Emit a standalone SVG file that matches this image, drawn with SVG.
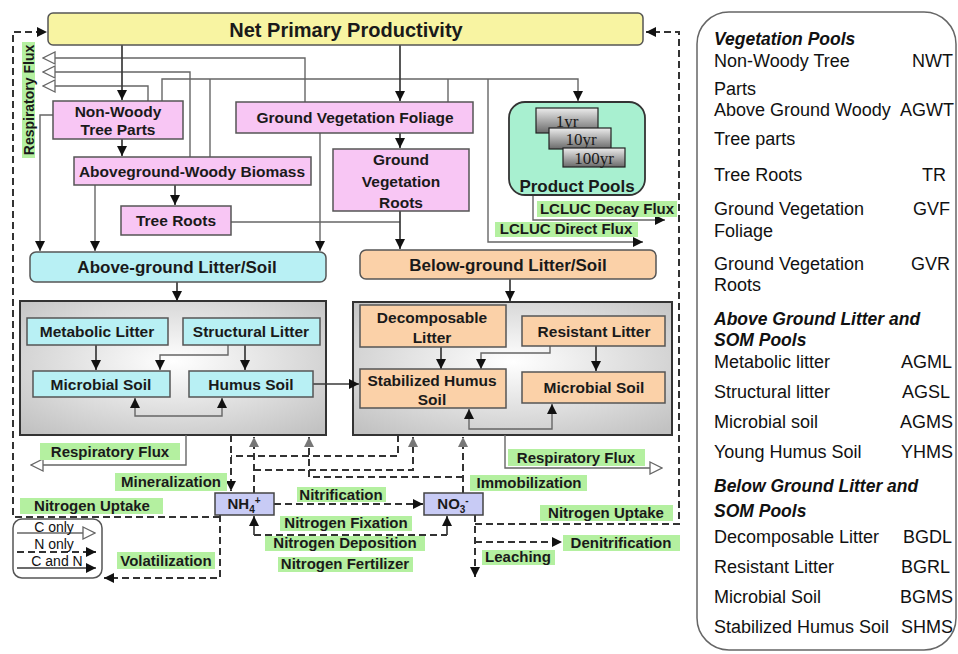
<svg xmlns="http://www.w3.org/2000/svg" width="958" height="654" viewBox="0 0 958 654">
<defs>
<style>
.t{font-family:"Liberation Sans",Arial,sans-serif;font-weight:bold;fill:#1a1a1a;text-anchor:middle}
.n{font-size:15.5px}
.h{font-size:17px}
.g{font-size:15px}
.lg{font-family:"Liberation Sans",Arial,sans-serif;font-size:14px;fill:#111;text-anchor:middle}
.gl{fill:#b4f0a0}
.pink{fill:#f8c6f4;stroke:#555;stroke-width:1.5}
.cyan{fill:#b8f0f4;stroke:#555;stroke-width:1.5}
.peach{fill:#fbd1a8;stroke:#555;stroke-width:1.5}
.nbox{fill:#c8cbf5;stroke:#444;stroke-width:1.5}
.cont{fill:url(#cg);stroke:#333;stroke-width:2}
.yr{fill:url(#yg);stroke:#222;stroke-width:1.2}
.yt{font-family:"Liberation Serif","Times New Roman",serif;font-size:17px;fill:#1a1a1a;text-anchor:middle}
.s{fill:none;stroke:#3a3a3a;stroke-width:1.7}
.sg{fill:none;stroke:#666;stroke-width:1.4}
.d{fill:none;stroke:#333;stroke-width:2;stroke-dasharray:7 4}
.p{font-family:"Comic Sans MS","Liberation Sans",Arial,sans-serif;font-size:18px;fill:#111}
.a{text-anchor:end}
.pb{font-family:"Comic Sans MS","Liberation Sans",Arial,sans-serif;font-size:17.5px;font-weight:bold;font-style:italic;fill:#111}
</style>
<radialGradient id="cg" cx="50%" cy="45%" r="70%">
<stop offset="0" stop-color="#ffffff"/>
<stop offset="1" stop-color="#c2c2c2"/>
</radialGradient>
<linearGradient id="yg" x1="0" y1="0" x2="0" y2="1">
<stop offset="0" stop-color="#ececec"/>
<stop offset="1" stop-color="#6a6a6a"/>
</linearGradient>
<marker id="ab" viewBox="0 0 10 10" refX="10" refY="5" markerWidth="10" markerHeight="10" markerUnits="userSpaceOnUse" orient="auto-start-reverse"><path d="M0,0L10,5L0,10z" fill="#111"/></marker>
<marker id="ag" viewBox="0 0 10 10" refX="10" refY="5" markerWidth="10" markerHeight="10" markerUnits="userSpaceOnUse" orient="auto-start-reverse"><path d="M0,0L10,5L0,10z" fill="#777"/></marker>
<marker id="ao" viewBox="0 0 14 14" refX="13" refY="7" markerWidth="14" markerHeight="14" markerUnits="userSpaceOnUse" orient="auto"><path d="M1,1L13,7L1,13z" fill="#fff" stroke="#666" stroke-width="1.3"/></marker>
</defs>
<rect width="958" height="654" fill="#fff"/>

<!-- right legend panel -->
<g id="abbrev-panel">
<rect x="697" y="12" width="259" height="638" rx="32" fill="#fff" stroke="#666" stroke-width="1.5"/>
<text class="pb" x="714" y="45">Vegetation Pools</text>
<text class="p" x="714" y="67">Non-Woody Tree</text><text class="p a" x="953" y="67">NWT</text>
<text class="p" x="714" y="95">Parts</text>
<text class="p" x="714" y="116">Above Ground Woody</text><text class="p a" x="954" y="116">AGWT</text>
<text class="p" x="714" y="145">Tree parts</text>
<text class="p" x="714" y="181">Tree Roots</text><text class="p a" x="946" y="181">TR</text>
<text class="p" x="714" y="215">Ground Vegetation</text><text class="p a" x="950" y="215">GVF</text>
<text class="p" x="714" y="237">Foliage</text>
<text class="p" x="714" y="270">Ground Vegetation</text><text class="p a" x="950" y="270">GVR</text>
<text class="p" x="714" y="291">Roots</text>
<text class="pb" x="714" y="325">Above Ground Litter and</text>
<text class="pb" x="714" y="346">SOM Pools</text>
<text class="p" x="714" y="368">Metabolic litter</text><text class="p a" x="952" y="368">AGML</text>
<text class="p" x="714" y="398">Structural litter</text><text class="p a" x="950" y="398">AGSL</text>
<text class="p" x="714" y="428">Microbial soil</text><text class="p a" x="953" y="428">AGMS</text>
<text class="p" x="714" y="458">Young Humus Soil</text><text class="p a" x="953" y="458">YHMS</text>
<text class="pb" x="714" y="492">Below Ground Litter and</text>
<text class="pb" x="714" y="517">SOM Pools</text>
<text class="p" x="714" y="543">Decomposable Litter</text><text class="p a" x="952" y="543">BGDL</text>
<text class="p" x="714" y="573">Resistant Litter</text><text class="p a" x="950" y="573">BGRL</text>
<text class="p" x="714" y="603">Microbial Soil</text><text class="p a" x="953" y="603">BGMS</text>
<text class="p" x="714" y="633">Stabilized Humus Soil</text><text class="p a" x="953" y="633">SHMS</text>
</g>

<!-- containers -->
<g id="above-container"><rect class="cont" x="20" y="301" width="306" height="134"/></g>
<g id="below-container"><rect class="cont" x="353" y="302" width="319" height="133"/></g>

<!-- connectors -->
<g id="connectors">
<path class="sg" d="M305,102V58H43" marker-end="url(#ao)"/>
<path class="sg" d="M190,157V72H43" marker-end="url(#ao)"/>
<path class="sg" d="M148,101V86H43" marker-end="url(#ao)"/>
<path class="sg" d="M162,101V79H578V101" marker-end="url(#ab)"/>
<path class="sg" d="M210,157V79"/>
<path class="sg" d="M448,102V79"/>
<path class="sg" d="M488,79V242H643" marker-end="url(#ab)"/>
<path class="sg" d="M533,195V220H665" marker-end="url(#ab)"/>
<path class="s" d="M122,45V100" marker-end="url(#ab)"/>
<path class="s" d="M400,45V101" marker-end="url(#ab)"/>
<path class="s" d="M122,139V156" marker-end="url(#ab)"/>
<path class="s" d="M175,185V205" marker-end="url(#ab)"/>
<path class="s" d="M400,133V148" marker-end="url(#ab)"/>
<path class="sg" d="M231,222H400"/>
<path class="s" d="M400,211V249" marker-end="url(#ab)"/>
<path class="sg" d="M53,115H40V251" marker-end="url(#ab)"/>
<path class="sg" d="M95,185V251" marker-end="url(#ab)"/>
<path class="sg" d="M320,133V251" marker-end="url(#ab)"/>
<path class="s" d="M177,282V301" marker-end="url(#ab)"/>
<path class="s" d="M510,279V301" marker-end="url(#ab)"/>
<path class="s" d="M96,345V370" marker-end="url(#ab)"/>
<path class="s" d="M245,345V370" marker-end="url(#ab)"/>
<path class="sg" d="M228,345V355H160V370" marker-end="url(#ab)"/>
<path class="sg" d="M135,398V416H222V398" marker-start="url(#ab)" marker-end="url(#ab)"/>
<path class="s" d="M313,384H359" marker-end="url(#ab)" stroke-width="2.2"/>
<path class="s" d="M441,347V369" marker-end="url(#ab)"/>
<path class="sg" d="M550,346V353H481V369" marker-end="url(#ab)"/>
<path class="s" d="M596,346V371" marker-end="url(#ab)"/>
<path class="sg" d="M469,409V429H552V404" marker-start="url(#ab)" marker-end="url(#ab)"/>
<path class="sg" d="M186,435V465H31" marker-end="url(#ao)"/>
<path class="sg" d="M505,435V468H662" marker-end="url(#ao)"/>
<path class="d" d="M220,517H13V32H47" marker-end="url(#ab)"/>
<path class="d" d="M220,515V578H104" marker-end="url(#ab)"/>
<path class="d" d="M475,515V577" marker-end="url(#ab)"/>
<path class="d" d="M475,524H679V32H646" marker-end="url(#ab)"/>
<path class="d" d="M475,542H562" marker-end="url(#ab)"/>
<path class="d" d="M231,435V491" marker-end="url(#ab)"/>
<path class="d" d="M398,435V456H231"/>
<path class="d" d="M254,493V437" marker-end="url(#ag)"/>
<path class="d" d="M254,470H413V437" marker-end="url(#ag)"/>
<path class="d" d="M463,493V437" marker-end="url(#ag)"/>
<path class="d" d="M463,477H309V437" marker-end="url(#ag)"/>
<path class="d" d="M274,504H423" marker-end="url(#ab)"/>
<path class="d" d="M254,535H447"/>
<path class="s" d="M254,535V516" marker-end="url(#ab)" stroke-width="2"/>
<path class="s" d="M447,535V516" marker-end="url(#ab)" stroke-width="2"/>
</g>

<!-- nodes -->
<g id="npp"><rect x="48" y="13" width="595" height="32" rx="5" fill="#f8f4a2" stroke="#555" stroke-width="1.5"/><text class="t" x="346" y="37" font-size="20">Net Primary Productivity</text></g>
<g id="nwt"><rect class="pink" x="53" y="101" width="130" height="38"/><text class="t n" x="118" y="117">Non-Woody</text><text class="t n" x="118" y="135">Tree Parts</text></g>
<g id="gvf"><rect class="pink" x="236" y="102" width="237" height="31"/><text class="t n" x="355" y="123">Ground Vegetation Foliage</text></g>
<g id="agwb"><rect class="pink" x="74" y="157" width="237" height="28"/><text class="t n" x="192" y="177">Aboveground-Woody Biomass</text></g>
<g id="tree-roots"><rect class="pink" x="121" y="206" width="110" height="29"/><text class="t n" x="176" y="226">Tree Roots</text></g>
<g id="gvr"><rect class="pink" x="333" y="149" width="136" height="62"/><text class="t n" x="401" y="165">Ground</text><text class="t n" x="401" y="187">Vegetation</text><text class="t n" x="401" y="208">Roots</text></g>
<g id="product-pools">
<rect x="509" y="102" width="136" height="93" rx="16" fill="#a8f0d0" stroke="#333" stroke-width="1.8"/>
<rect class="yr" x="536" y="108" width="62" height="25"/><text class="yt" x="567" y="127">1yr</text>
<rect class="yr" x="549" y="128" width="62" height="21"/><text class="yt" x="581" y="145">10yr</text>
<rect class="yr" x="563" y="148" width="62" height="19"/><text class="yt" x="594" y="164">100yr</text>
<text class="t" x="577" y="192" font-size="17">Product Pools</text>
</g>
<g id="above-litter"><rect class="cyan" x="30" y="252" width="296" height="30" rx="6"/><text class="t h" x="177" y="273">Above-ground Litter/Soil</text></g>
<g id="below-litter"><rect class="peach" x="360" y="250" width="296" height="29" rx="6"/><text class="t h" x="508" y="271">Below-ground Litter/Soil</text></g>
<g id="metabolic"><rect class="cyan" x="27" y="318" width="141" height="27"/><text class="t n" x="97" y="337">Metabolic Litter</text></g>
<g id="structural"><rect class="cyan" x="183" y="318" width="137" height="27"/><text class="t n" x="251" y="337">Structural Litter</text></g>
<g id="microbial-above"><rect class="cyan" x="33" y="371" width="137" height="26"/><text class="t n" x="101" y="390">Microbial Soil</text></g>
<g id="humus"><rect class="cyan" x="189" y="371" width="124" height="26"/><text class="t n" x="251" y="390">Humus Soil</text></g>
<g id="decomposable"><rect class="peach" x="360" y="305" width="146" height="42"/><text class="t n" x="432" y="323">Decomposable</text><text class="t n" x="432" y="343">Litter</text></g>
<g id="resistant"><rect class="peach" x="522" y="316" width="143" height="30"/><text class="t n" x="594" y="337">Resistant Litter</text></g>
<g id="stabilized"><rect class="peach" x="360" y="369" width="146" height="39"/><text class="t n" x="432" y="386">Stabilized Humus</text><text class="t n" x="432" y="405">Soil</text></g>
<g id="microbial-below"><rect class="peach" x="522" y="372" width="143" height="31"/><text class="t n" x="594" y="393">Microbial Soil</text></g>
<g id="nh4"><rect class="nbox" x="215" y="493" width="59" height="22"/><text class="t" x="244" y="509" font-size="15">NH<tspan font-size="10" dy="4">4</tspan><tspan font-size="10" dy="-9">+</tspan></text></g>
<g id="no3"><rect class="nbox" x="424" y="493" width="59" height="22"/><text class="t" x="453" y="509" font-size="15">NO<tspan font-size="10" dy="4">3</tspan><tspan font-size="10" dy="-9">-</tspan></text></g>

<!-- flux labels -->
<g id="labels">
<rect class="gl" x="22" y="42" width="13" height="116"/><text class="t" x="34" y="100" font-size="14" transform="rotate(-90 34 100)">Respiratory Flux</text>
<rect class="gl" x="537" y="201" width="140" height="16"/><text class="t g" x="607" y="214">LCLUC Decay Flux</text>
<rect class="gl" x="495" y="222" width="143" height="15"/><text class="t g" x="566" y="234">LCLUC Direct Flux</text>
<rect class="gl" x="40" y="443" width="140" height="17"/><text class="t g" x="110" y="457">Respiratory Flux</text>
<rect class="gl" x="508" y="449" width="137" height="17"/><text class="t g" x="576" y="463">Respiratory Flux</text>
<rect class="gl" x="115" y="473" width="112" height="18"/><text class="t g" x="171" y="487">Mineralization</text>
<rect class="gl" x="470" y="475" width="117" height="16"/><text class="t g" x="529" y="488">Immobilization</text>
<rect class="gl" x="20" y="498" width="143" height="16"/><text class="t g" x="92" y="511">Nitrogen Uptake</text>
<rect class="gl" x="297" y="487" width="89" height="15"/><text class="t g" x="341" y="500">Nitrification</text>
<rect class="gl" x="540" y="505" width="133" height="16"/><text class="t g" x="606" y="518">Nitrogen Uptake</text>
<rect class="gl" x="280" y="516" width="132" height="15"/><text class="t g" x="346" y="528">Nitrogen Fixation</text>
<rect class="gl" x="265" y="536" width="160" height="15"/><text class="t g" x="345" y="548">Nitrogen Deposition</text>
<rect class="gl" x="563" y="535" width="117" height="16"/><text class="t g" x="621" y="548">Denitrification</text>
<rect class="gl" x="117" y="552" width="98" height="17"/><text class="t g" x="166" y="566">Volatilization</text>
<rect class="gl" x="482" y="550" width="73" height="15"/><text class="t g" x="518" y="562">Leaching</text>
<rect class="gl" x="278" y="557" width="135" height="15"/><text class="t g" x="345" y="569">Nitrogen Fertilizer</text>
</g>

<!-- line-style legend -->
<g id="line-legend">
<rect x="13" y="519" width="89" height="59" rx="9" fill="#fff" stroke="#555" stroke-width="1.5"/>
<path class="sg" d="M17,533H95" marker-end="url(#ao)"/>
<path class="d" d="M17,552H96" marker-end="url(#ab)"/>
<path class="s" d="M17,568H96" marker-end="url(#ab)"/>
<text class="lg" x="54" y="532">C only</text>
<text class="lg" x="54" y="549">N only</text>
<text class="lg" x="57" y="566">C and N</text>
</g>
</svg>
